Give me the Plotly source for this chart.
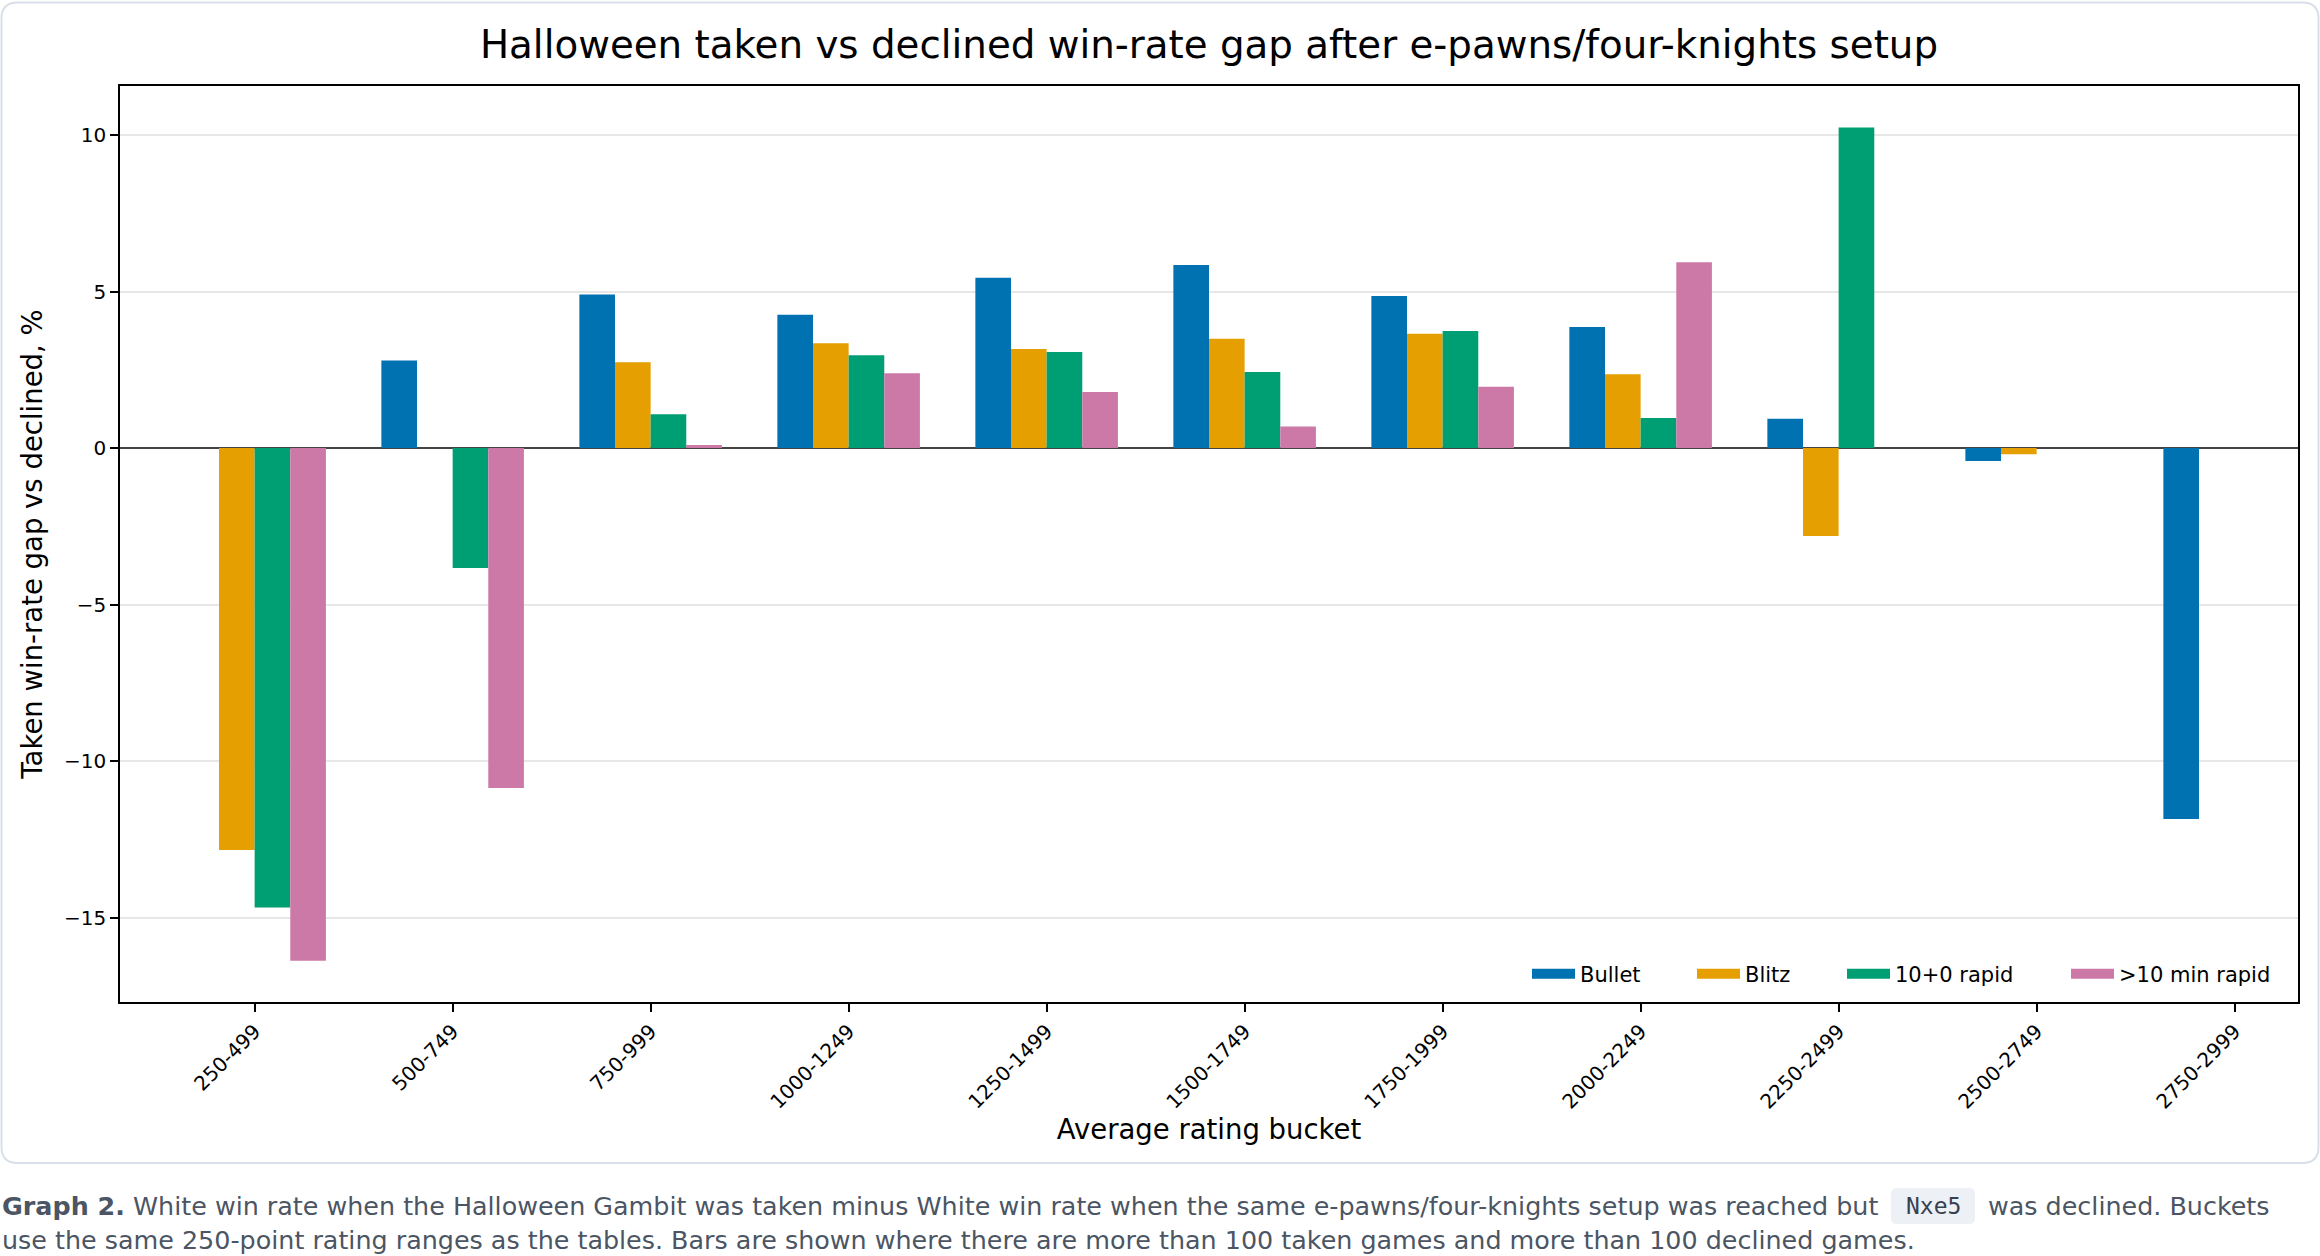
import plotly.graph_objects as go

# ---- data ----
buckets = ["250-499", "500-749", "750-999", "1000-1249", "1250-1499", "1500-1749",
           "1750-1999", "2000-2249", "2250-2499", "2500-2749", "2750-2999"]
bullet = [None, 2.80, 4.91, 4.26, 5.44, 5.85, 4.86, 3.87, 0.94, -0.41, -11.85]
blitz = [-12.84, None, 2.74, 3.35, 3.17, 3.49, 3.65, 2.36, -2.81, -0.20, None]
rapid_10 = [-14.68, -3.83, 1.08, 2.97, 3.07, 2.43, 3.74, 0.96, 10.24, None, None]
rapid_long = [-16.38, -10.86, 0.10, 2.39, 1.79, 0.69, 1.96, 5.94, None, None, None]

series_names = ["Bullet", "Blitz", "10+0 rapid", ">10 min rapid"]
series_values = [bullet, blitz, rapid_10, rapid_long]
colors = ["#0072B2", "#E69F00", "#009E73", "#CC79A7"]

title_text = "Halloween taken vs declined win-rate gap after e-pawns/four-knights setup"
x_title = "Average rating bucket"
y_title = "Taken win-rate gap vs declined, %"

W, H = 2320, 1256
L, R, T, B = 120, 22, 86, 254
PW, PH = W - L - R, H - T - B


def px(x):
    return (x - L) / PW


def py(y):
    return (H - B - y) / PH


FONT = "DejaVu Sans"
legend_ids = ["legend", "legend2", "legend3", "legend4"]
legend_left_px = [1527, 1692, 1842, 2066]   # left edge of each legend box (pixels)

fig = go.Figure()
for name, vals, col in zip(series_names, series_values, colors):
    fig.add_trace(go.Bar(
        x=buckets, y=vals, name=name, legendgroup=name, showlegend=False,
        marker=dict(color=col, line=dict(width=0)),
    ))
# legend entries drawn as wide swatches (no data points)
for name, col, lg in zip(series_names, colors, legend_ids):
    fig.add_trace(go.Scatter(
        x=[None], y=[None], name=name, legendgroup=name, mode="lines",
        line=dict(color=col, width=15), hoverinfo="skip", legend=lg,
    ))

legend_style = dict(orientation="h", xanchor="left", yanchor="bottom", y=0.008,
                    font=dict(family=FONT, size=21, color="black"),
                    bgcolor="rgba(255,255,255,0)", itemwidth=43, borderwidth=0)
legends = {lg: dict(legend_style, x=px(xl)) for lg, xl in zip(legend_ids, legend_left_px)}

fig.update_layout(
    width=W, height=H,
    margin=dict(l=L, r=R, t=T, b=B),
    paper_bgcolor="white", plot_bgcolor="white",
    barmode="group", bargap=0.28, bargroupgap=0,
    font=dict(family=FONT, color="black", size=20),
    title=dict(text=title_text, x=1209 / W, xanchor="center", xref="container",
               y=1 - 44 / H, yanchor="middle",
               font=dict(family=FONT, size=38.8, color="black")),
    showlegend=True,
    **legends,
)

fig.update_xaxes(
    range=[-0.68, 10.32], type="category",
    showline=True, linecolor="black", linewidth=1.5, mirror=True,
    ticks="outside", ticklen=8, tickwidth=1.5, tickcolor="black",
    tickangle=-45, tickfont=dict(family=FONT, size=20, color="black"),
    showgrid=False,
    title=dict(text=x_title, font=dict(family=FONT, size=27.5, color="black"), standoff=6),
)
fig.update_yaxes(
    range=[-17.7, 11.57], dtick=5, tick0=0,
    showline=True, linecolor="black", linewidth=1.5, mirror=True,
    ticks="outside", ticklen=8, tickwidth=1.5, tickcolor="black",
    tickfont=dict(family=FONT, size=20, color="black"),
    showgrid=True, gridcolor="rgba(170,170,170,0.28)", gridwidth=1.5,
    zeroline=True, zerolinecolor="#444444", zerolinewidth=2,
    layer="above traces",
    title=dict(text=y_title, font=dict(family=FONT, size=27.5, color="black"), standoff=13),
)

# card border (rounded)
x0, x1, y0, y1, r = px(1.5), px(2318.5), py(2.5), py(1163), 16
rx, ry = r / PW, r / PH
card_path = (f"M {x0+rx},{y0} L {x1-rx},{y0} Q {x1},{y0} {x1},{y0-ry} "
             f"L {x1},{y1+ry} Q {x1},{y1} {x1-rx},{y1} L {x0+rx},{y1} "
             f"Q {x0},{y1} {x0},{y1+ry} L {x0},{y0-ry} Q {x0},{y0} {x0+rx},{y0} Z")
fig.add_shape(type="path", path=card_path, xref="paper", yref="paper",
              line=dict(color="#d9dfe8", width=2), fillcolor="rgba(0,0,0,0)", layer="below")

# inline-code background for "Nxe5"
bx0, bx1, by0, by1, br = px(1891), px(1975), py(1188), py(1224), 6
brx, bry = br / PW, br / PH
code_path = (f"M {bx0+brx},{by0} L {bx1-brx},{by0} Q {bx1},{by0} {bx1},{by0-bry} "
             f"L {bx1},{by1+bry} Q {bx1},{by1} {bx1-brx},{by1} L {bx0+brx},{by1} "
             f"Q {bx0},{by1} {bx0},{by1+bry} L {bx0},{by0-bry} Q {bx0},{by0} {bx0+brx},{by0} Z")
fig.add_shape(type="path", path=code_path, xref="paper", yref="paper",
              line=dict(width=0), fillcolor="#edf0f4", layer="below")

CAP_FONT = "DejaVu Sans"
CAP_SIZE = 25.4
CAP_COLOR = "#4b5563"
cap1a = ("<b>Graph 2.</b> White win rate when the Halloween Gambit was taken minus White win rate "
         "when the same e-pawns/four-knights setup was reached but")
cap1b = "was declined. Buckets"
cap2 = ("use the same 250-point rating ranges as the tables. Bars are shown where there are more "
        "than 100 taken games and more than 100 declined games.")
fig.add_annotation(text=cap1a, xref="paper", yref="paper", x=px(0), y=py(1206),
                   xanchor="left", yanchor="middle", showarrow=False,
                   font=dict(family=CAP_FONT, size=CAP_SIZE, color=CAP_COLOR))
fig.add_annotation(text="Nxe5", xref="paper", yref="paper", x=px(1933), y=py(1206),
                   xanchor="center", yanchor="middle", showarrow=False,
                   font=dict(family="DejaVu Sans Mono", size=23, color="#374151"))
fig.add_annotation(text=cap1b, xref="paper", yref="paper", x=px(1986), y=py(1206),
                   xanchor="left", yanchor="middle", showarrow=False,
                   font=dict(family=CAP_FONT, size=CAP_SIZE, color=CAP_COLOR))
fig.add_annotation(text=cap2, xref="paper", yref="paper", x=px(0), y=py(1240),
                   xanchor="left", yanchor="middle", showarrow=False,
                   font=dict(family=CAP_FONT, size=CAP_SIZE, color=CAP_COLOR))

fig.write_html("out.html")
